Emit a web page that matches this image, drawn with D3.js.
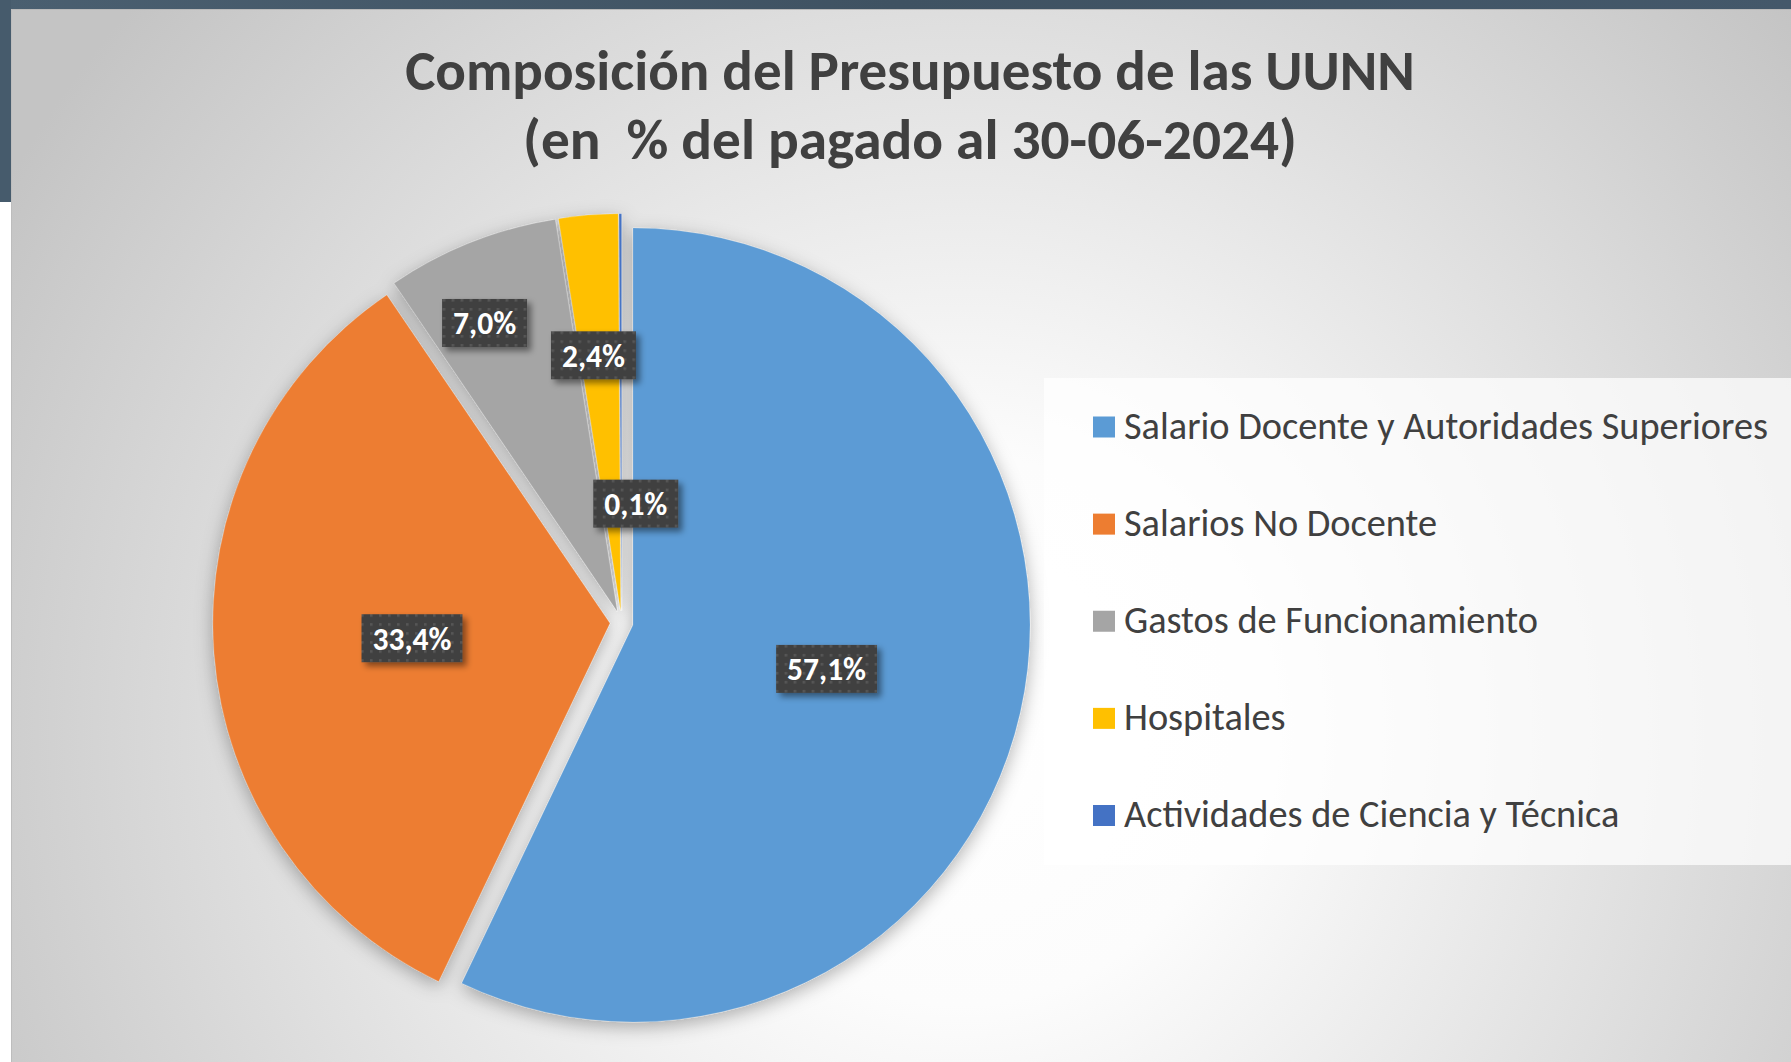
<!DOCTYPE html>
<html>
<head>
<meta charset="utf-8">
<script src="https://cdn.jsdelivr.net/npm/d3@7"></script>
<style>
html,body{margin:0;padding:0;background:#fff;overflow:hidden}
text{font-family:Carlito,Calibri,Lato,sans-serif}
</style>
</head>
<body>
<div id="container"></div>
<script>
var titleLines = ["Composición del Presupuesto de las UUNN", "(en  % del pagado al 30-06-2024)"]
var categories = ["Salario Docente y Autoridades Superiores", "Salarios No Docente", "Gastos de Funcionamiento", "Hospitales", "Actividades de Ciencia y Técnica"]
var values = [57.1, 33.4, 7.0, 2.4, 0.1]
var valueLabels = ["57,1%", "33,4%", "7,0%", "2,4%", "0,1%"]
var colors = ["#5b9bd5", "#ed7d31", "#a5a5a5", "#ffc000", "#4472c4"]

var W = 1791, H = 1062
var cx = 621.6, cy = 622.4, radius = 397, explode = 11.7
// excel "best fit" label spots: [fraction of radius, angle nudge in degrees]
var labelPlace = [[0.5, 0], [0.5, 0], [0.8, -3.1], [0.647, -1.4], [0.272, 7.75]]

var svg = d3.select("#container").append("svg").attr("width", W).attr("height", H)
var defs = svg.append("defs")

var bg = defs.append("radialGradient").attr("id", "bg")
    .attr("gradientUnits", "userSpaceOnUse")
    .attr("cx", 960).attr("cy", 730).attr("r", 1100)
bg.append("stop").attr("offset", 0).attr("stop-color", "#ffffff")
bg.append("stop").attr("offset", 0.25).attr("stop-color", "#fcfcfc")
bg.append("stop").attr("offset", 1).attr("stop-color", "#c4c4c4")

var band = defs.append("linearGradient").attr("id", "band").attr("x1", 0).attr("x2", 1)
band.append("stop").attr("offset", 0).attr("stop-color", "#4a5f70")
band.append("stop").attr("offset", 0.5).attr("stop-color", "#3f5262")
band.append("stop").attr("offset", 1).attr("stop-color", "#44586a")

var sh = defs.append("filter").attr("id", "pieShadow")
    .attr("x", -0.2).attr("y", -0.2).attr("width", 1.4).attr("height", 1.4)
sh.append("feDropShadow").attr("dx", 0).attr("dy", 5).attr("stdDeviation", 9)
    .attr("flood-color", "#000").attr("flood-opacity", 0.3)

var bs = defs.append("filter").attr("id", "boxShadow")
    .attr("x", -0.3).attr("y", -0.3).attr("width", 1.6).attr("height", 1.6)
bs.append("feDropShadow").attr("dx", 4).attr("dy", 4).attr("stdDeviation", 3)
    .attr("flood-color", "#000").attr("flood-opacity", 0.45)

var dots = defs.append("pattern").attr("id", "dots")
    .attr("patternUnits", "userSpaceOnUse").attr("width", 9).attr("height", 9)
dots.append("rect").attr("width", 9).attr("height", 9).attr("fill", "#404040")
dots.append("rect").attr("x", 3).attr("y", 3).attr("width", 2.6).attr("height", 2.6).attr("fill", "#575757")

// slide frame
svg.append("rect").attr("x", 0).attr("y", 0).attr("width", W).attr("height", 9).attr("fill", "url(#band)")
svg.append("rect").attr("x", 0).attr("y", 0).attr("width", 11).attr("height", 202).attr("fill", "#465b6c")
svg.append("rect").attr("x", 11).attr("y", 9).attr("width", W - 11).attr("height", H - 9).attr("fill", "url(#bg)")
svg.append("line").attr("x1", 11).attr("x2", W).attr("y1", 9.5).attr("y2", 9.5).attr("stroke", "#b9b9b9").attr("stroke-width", 1)
svg.append("line").attr("x1", 11.5).attr("x2", 11.5).attr("y1", 9).attr("y2", H).attr("stroke", "#bdbdbd").attr("stroke-width", 1)

// title, sized to the reference widths
var titleWidths = [1010, 774]
var titleBase = [90, 159]
titleLines.forEach(function(t, i){
    var tx = svg.append("text")
        .attr("x", 910).attr("y", titleBase[i])
        .attr("text-anchor", "middle")
        .style("white-space", "pre")
        .attr("font-weight", "bold").attr("font-size", 60)
        .attr("fill", "#404040")
        .text(t)
    var len = tx.node().getComputedTextLength()
    tx.attr("font-size", 60 * titleWidths[i] / len)
})

// pie
var color = d3.scaleOrdinal().domain(categories).range(colors)
var pie = d3.pie().sort(null).value(function(d){return d})
var arcs = pie(values)
var arc = d3.arc().innerRadius(0).outerRadius(radius)

function offset(d){
    var mid = (d.startAngle + d.endAngle) / 2
    return d3.pointRadial(mid, explode)
}

var pieG = svg.append("g").attr("transform", "translate(" + cx + "," + cy + ")")
var slices = pieG.append("g").attr("filter", "url(#pieShadow)")
slices.selectAll("path")
    .data(arcs)
    .enter()
    .append("path")
    .attr("transform", function(d){var o = offset(d); return "translate(" + o[0] + "," + o[1] + ")"})
    .attr("d", arc)
    .attr("fill", function(d, i){return color(categories[i])})
    .attr("stroke", "rgba(255,255,255,0.15)")
    .attr("stroke-width", 1)

// data labels
var lab = pieG.selectAll(".lab")
    .data(arcs)
    .enter()
    .append("g")
    .attr("class", "lab")
    .attr("transform", function(d, i){
        var o = offset(d)
        var mid = (d.startAngle + d.endAngle) / 2 + labelPlace[i][1] * Math.PI / 180
        var p = d3.pointRadial(mid, radius * labelPlace[i][0])
        return "translate(" + (o[0] + p[0]) + "," + (o[1] + p[1]) + ")"
    })

lab.append("rect").attr("class", "box")
var labTxt = lab.append("text")
    .attr("text-anchor", "middle")
    .attr("dy", "0.36em")
    .attr("font-weight", "bold")
    .attr("font-size", 30)
    .attr("fill", "#ffffff")
    .text(function(d, i){return valueLabels[i]})

// fit size on "7,0%" (62px wide in the reference)
var ref = labTxt.filter(function(d, i){return i == 2}).node().getComputedTextLength()
labTxt.attr("font-size", 30 * 63 / ref)

lab.each(function(){
    var g = d3.select(this)
    var w = g.select("text").node().getComputedTextLength() + 22
    g.select("rect")
        .attr("x", -w / 2).attr("y", -24)
        .attr("width", w).attr("height", 48)
        .attr("fill", "url(#dots)")
        .attr("filter", "url(#boxShadow)")
})

// legend
svg.append("rect")
    .attr("x", 1044).attr("y", 378).attr("width", W - 1044).attr("height", 487)
    .attr("fill", "#ffffff").attr("fill-opacity", 0.72)

var yLeg = d3.scalePoint().domain(categories).range([427, 815.5])
var leg = svg.selectAll(".leg")
    .data(categories)
    .enter()
    .append("g")
    .attr("class", "leg")
    .attr("transform", function(d){return "translate(1093," + yLeg(d) + ")"})

leg.append("rect")
    .attr("x", 0).attr("y", -10.5).attr("width", 22).attr("height", 21)
    .attr("fill", function(d){return color(d)})

var legTxt = leg.append("text")
    .attr("x", 31).attr("dy", "0.31em")
    .attr("font-size", 34)
    .attr("fill", "#404040")
    .text(function(d){return d})

var l0 = legTxt.filter(function(d, i){return i == 0}).node().getComputedTextLength()
legTxt.attr("font-size", 34 * 644 / l0)
</script>
</body>
</html>
